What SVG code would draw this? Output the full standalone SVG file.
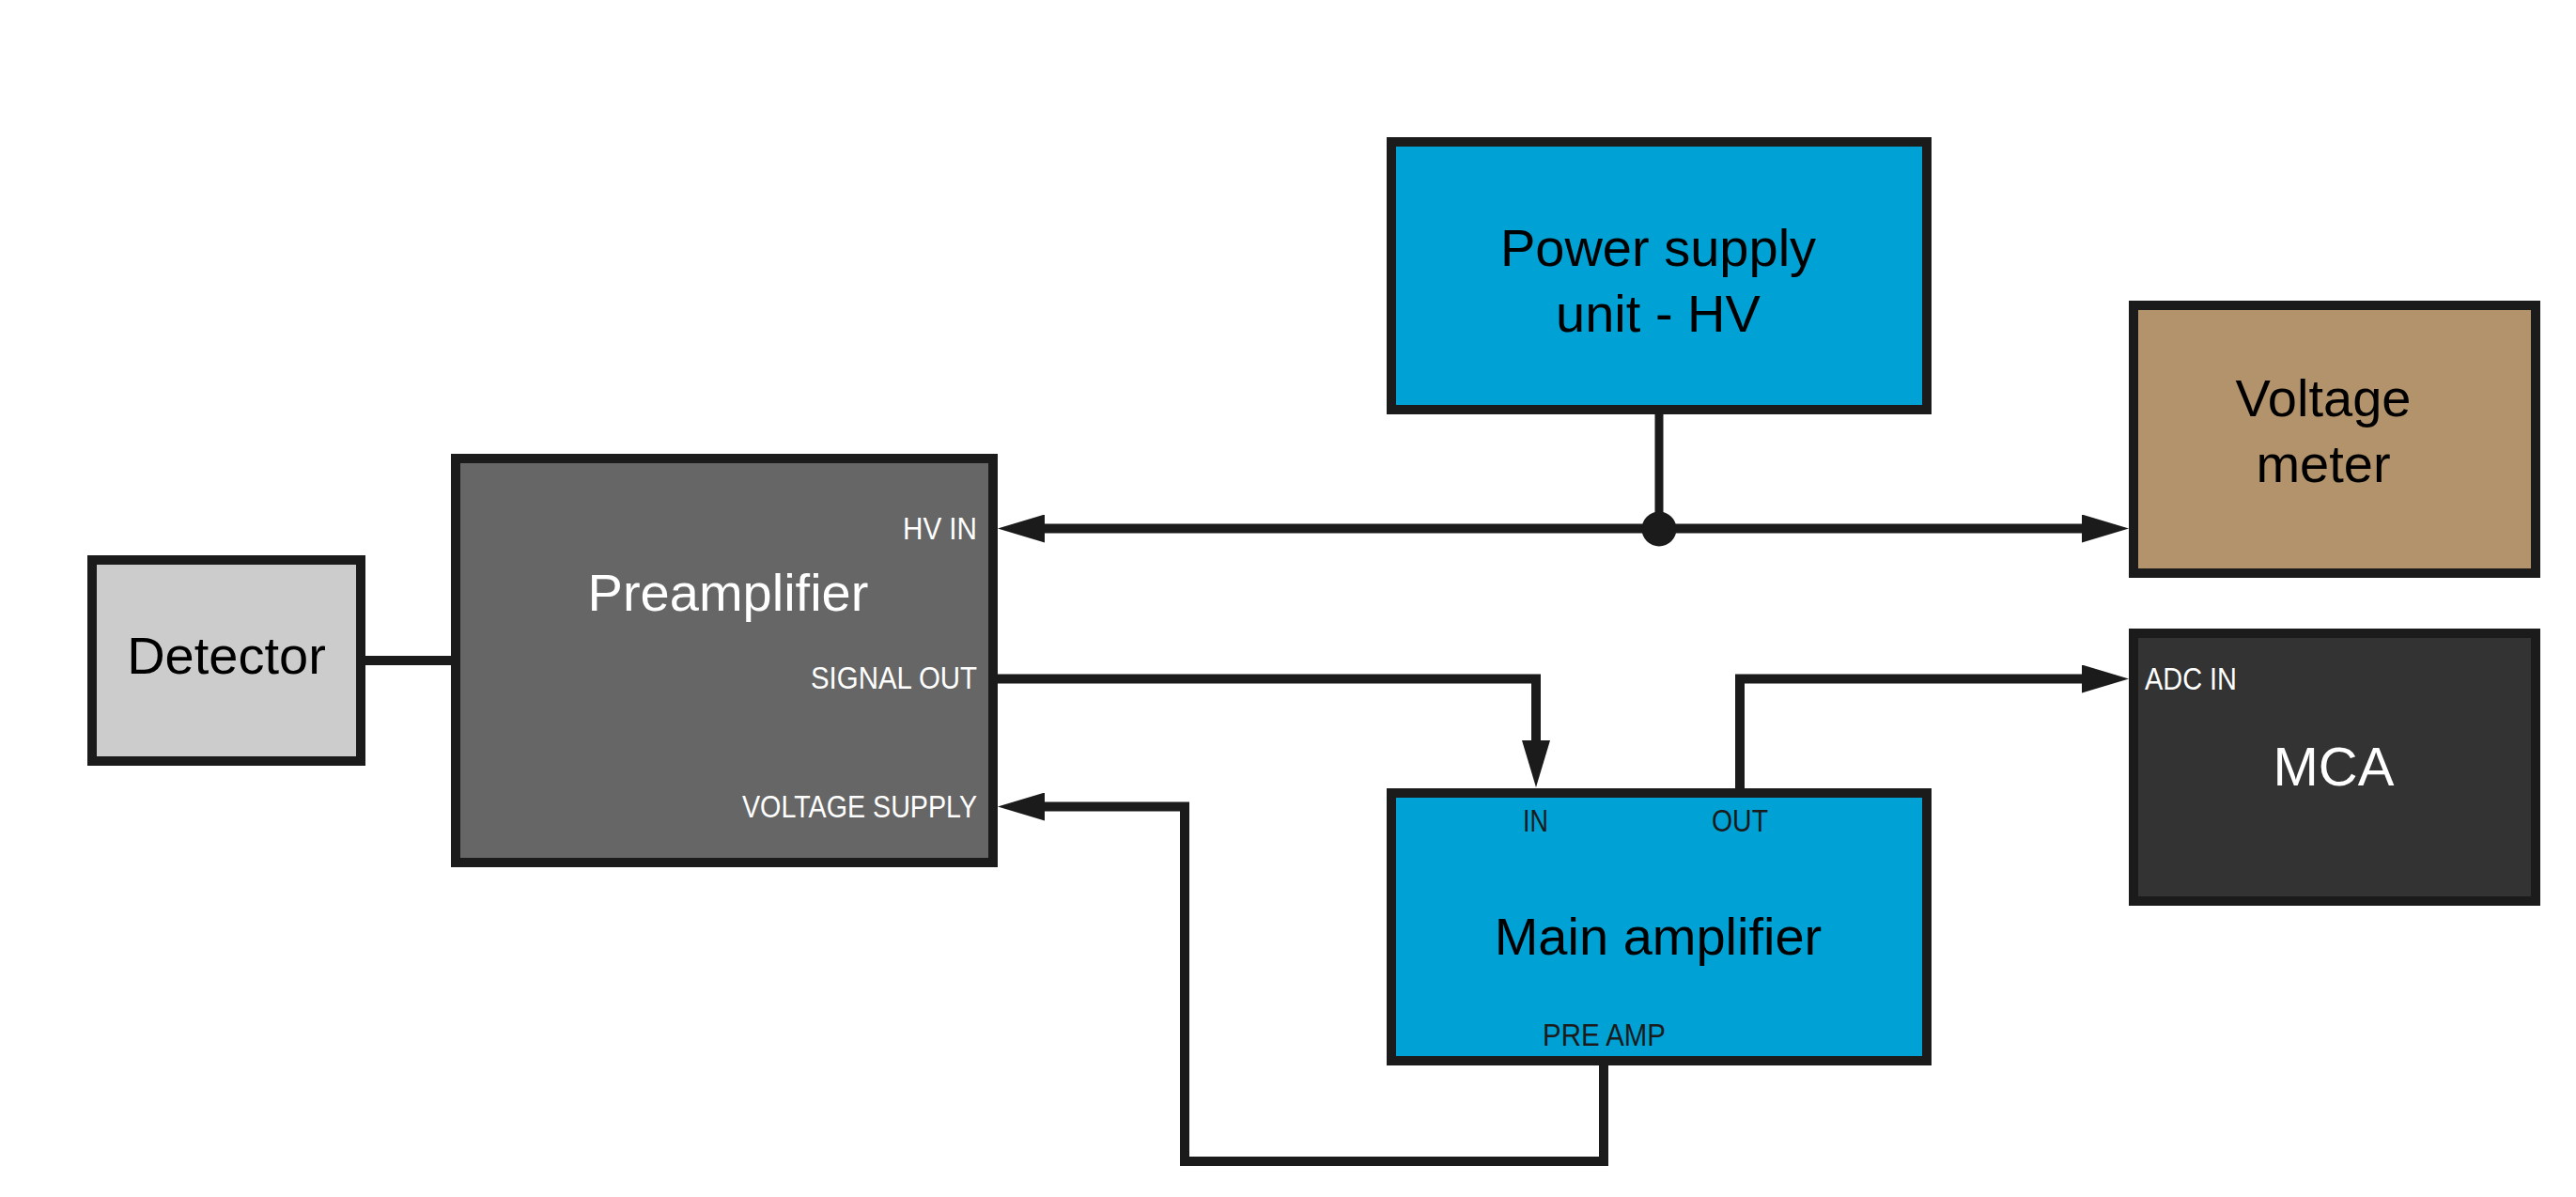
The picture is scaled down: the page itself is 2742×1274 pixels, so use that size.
<svg xmlns="http://www.w3.org/2000/svg" width="2742" height="1274" viewBox="0 0 2742 1274">
<style>
.box{stroke:#1b1b1b;stroke-width:10}
.t{font-family:"Liberation Sans",Arial,sans-serif;font-size:56px;text-anchor:middle}
.p{font-family:"Liberation Sans",Arial,sans-serif;font-size:34px}
.dk{fill:#000}
.wh{fill:#fff}
.pd{fill:#1b1b1b}
.c{fill:none;stroke:#1b1b1b;stroke-width:10;stroke-linejoin:miter;stroke-linecap:butt}
</style>
<defs>
<marker id="ah" markerUnits="userSpaceOnUse" markerWidth="50" markerHeight="30" refX="15" refY="15" orient="auto">
<path d="M0,0 L50,15 L0,30 z" fill="#1b1b1b"/>
</marker>
</defs>
<rect width="2742" height="1274" fill="#fff"/>
<g id="connectors">
<path class="c" d="M389,703 H481"/>
<path class="c" d="M1766,441 V563" style="stroke-width:9"/>
<path class="c" d="M1766,562.5 H1097" marker-end="url(#ah)"/>
<path class="c" d="M1766,562.5 H2231" marker-end="url(#ah)"/>
<path class="c" d="M1057,722.5 H1635 V803" marker-end="url(#ah)"/>
<path class="c" d="M1852,844 V722.5 H2231" marker-end="url(#ah)"/>
<path class="c" d="M1707,1129 V1236 H1261 V858.5 H1097" marker-end="url(#ah)"/>
<circle cx="1766" cy="563" r="18.5" fill="#1b1b1b"/>
</g>
<g id="detector">
<rect class="box" x="98" y="596" width="286" height="214" fill="#cccccc"/>
<text class="t dk" x="241" y="717">Detector</text>
</g>
<g id="preamplifier">
<rect class="box" x="485" y="488" width="572" height="430" fill="#666666"/>
<text class="t wh" x="775" y="650">Preamplifier</text>
<text class="p wh" x="961" y="574" textLength="79" lengthAdjust="spacingAndGlyphs">HV IN</text>
<text class="p wh" x="863" y="733" textLength="177" lengthAdjust="spacingAndGlyphs">SIGNAL OUT</text>
<text class="p wh" x="790" y="870" textLength="250" lengthAdjust="spacingAndGlyphs">VOLTAGE SUPPLY</text>
</g>
<g id="power-supply">
<rect class="box" x="1481" y="151" width="570" height="285" fill="#00a1d4"/>
<text class="t dk" x="1765" y="283">Power supply</text>
<text class="t dk" x="1765" y="353">unit - HV</text>
</g>
<g id="voltage-meter">
<rect class="box" x="2271" y="325" width="428" height="285" fill="#b2936b"/>
<text class="t dk" x="2473" y="443">Voltage</text>
<text class="t dk" x="2473" y="513">meter</text>
</g>
<g id="mca">
<rect class="box" x="2271" y="674" width="428" height="285" fill="#333333"/>
<text class="t wh" x="2484" y="836" style="font-size:58px">MCA</text>
<text class="p wh" x="2283" y="734" textLength="98" lengthAdjust="spacingAndGlyphs">ADC IN</text>
</g>
<g id="main-amplifier">
<rect class="box" x="1481" y="844" width="570" height="285" fill="#00a1d4"/>
<text class="t dk" x="1765" y="1016">Main amplifier</text>
<text class="p pd" x="1621" y="885" textLength="27" lengthAdjust="spacingAndGlyphs">IN</text>
<text class="p pd" x="1822" y="885" textLength="60" lengthAdjust="spacingAndGlyphs">OUT</text>
<text class="p pd" x="1642" y="1113" textLength="131" lengthAdjust="spacingAndGlyphs">PRE AMP</text>
</g>
</svg>
